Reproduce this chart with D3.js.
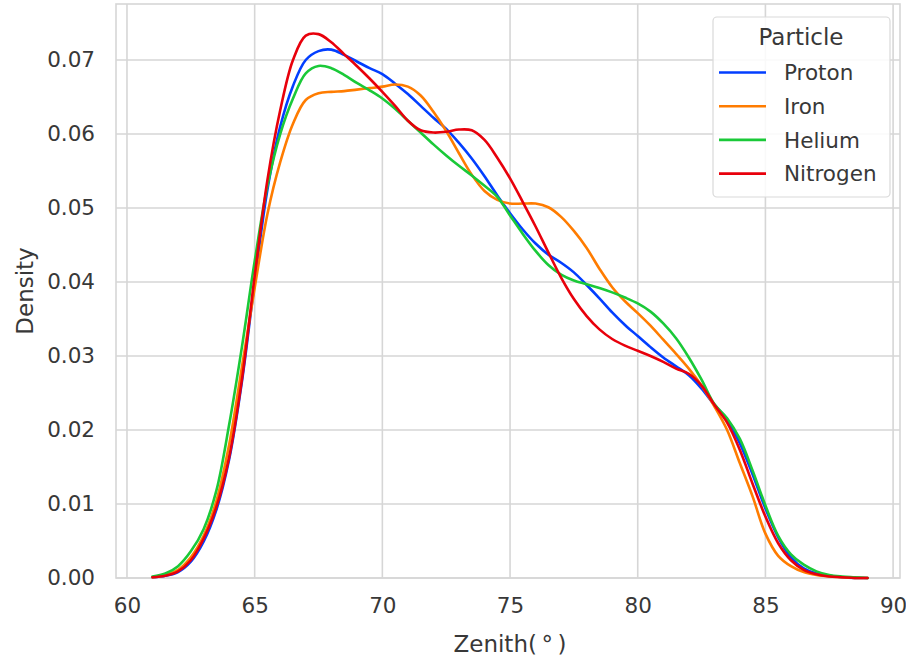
<!DOCTYPE html>
<html><head><meta charset="utf-8">
<script src="https://cdn.jsdelivr.net/npm/d3@7"></script>
<style>body{margin:0;background:#fff}svg{display:block}</style>
</head><body><svg id="c" width="906" height="661"></svg>
<script>
const zenith = [61,61.5,62,62.5,63,63.5,64,64.5,65,65.5,66,66.5,67,67.5,68,68.5,69,69.5,70,70.5,71,71.5,72,72.5,73,73.5,74,74.5,75,75.5,76,76.5,77,77.5,78,78.5,79,79.5,80,80.5,81,81.5,82,82.5,83,83.5,84,84.5,85,85.5,86,86.5,87,87.5,88,88.5,89];
const proton = [0.0001,0.0003,0.0008,0.0022,0.0049,0.0092,0.0160,0.0265,0.0400,0.0525,0.0610,0.0665,0.0700,0.0712,0.0714,0.0707,0.0698,0.0689,0.0681,0.0668,0.0654,0.0638,0.0622,0.0607,0.0588,0.0567,0.0543,0.0517,0.0493,0.0471,0.0452,0.0437,0.0426,0.0413,0.0396,0.0378,0.0359,0.0342,0.0327,0.0312,0.0298,0.0286,0.0274,0.0256,0.0234,0.0214,0.0182,0.0140,0.0094,0.0055,0.0028,0.0013,0.0006,0.0003,0.0001,0.0000,0.0000];
const iron = [0.0001,0.0004,0.0011,0.0028,0.0057,0.0104,0.0180,0.0285,0.0392,0.0492,0.0562,0.0614,0.0646,0.0655,0.0657,0.0658,0.0660,0.0662,0.0664,0.0667,0.0664,0.0652,0.0630,0.0604,0.0574,0.0545,0.0523,0.0511,0.0506,0.0506,0.0506,0.0501,0.0488,0.0469,0.0446,0.0418,0.0393,0.0374,0.0358,0.0341,0.0322,0.0303,0.0283,0.0260,0.0232,0.0200,0.0155,0.0110,0.0060,0.0030,0.0016,0.0008,0.0004,0.0002,0.0001,0.0000,0.0000];
const helium = [0.0002,0.0006,0.0016,0.0036,0.0066,0.0118,0.0207,0.0312,0.0428,0.0530,0.0600,0.0648,0.0682,0.0692,0.0689,0.0680,0.0669,0.0659,0.0648,0.0634,0.0618,0.0602,0.0586,0.0571,0.0557,0.0544,0.0530,0.0515,0.0490,0.0465,0.0442,0.0423,0.0410,0.0402,0.0397,0.0392,0.0386,0.0379,0.0371,0.0360,0.0344,0.0324,0.0298,0.0268,0.0235,0.0216,0.0188,0.0145,0.0098,0.0057,0.0032,0.0018,0.0009,0.0004,0.0002,0.0001,0.0000];
const nitrogen = [0.0001,0.0003,0.0009,0.0024,0.0053,0.0096,0.0163,0.0268,0.0408,0.0538,0.0632,0.0700,0.0733,0.0735,0.0724,0.0708,0.0692,0.0675,0.0657,0.0638,0.0618,0.0605,0.0602,0.0603,0.0606,0.0605,0.0592,0.0568,0.0540,0.0508,0.0475,0.0440,0.0406,0.0377,0.0354,0.0336,0.0323,0.0314,0.0307,0.0300,0.0292,0.0283,0.0276,0.0260,0.0234,0.0210,0.0173,0.0127,0.0083,0.0047,0.0024,0.0011,0.0005,0.0002,0.0001,0.0000,0.0000];
const particles = ["Proton","Iron","Helium","Nitrogen"];
const colors = ["#023eff","#ff7c00","#1ac938","#e8000b"];
const xTicks = [60,65,70,75,80,85,90];
const yTicks = [0,0.01,0.02,0.03,0.04,0.05,0.06,0.07];
const yTickLabels = ["0.00","0.01","0.02","0.03","0.04","0.05","0.06","0.07"];
const seriesValues = [proton, iron, helium, nitrogen];

const W = 906, H = 661;
const m = {left:116, right:6, top:4, bottom:83};
const pw = W - m.left - m.right, ph = H - m.top - m.bottom;
const svg = d3.select("#c");
const font = "'DejaVu Sans', sans-serif";
const textColor = "#383838";
const gridColor = "#d6d6d6";

const x = d3.scaleLinear().domain([59.57, 90.27]).range([m.left, m.left + pw]);
const y = d3.scaleLinear().domain([0, 0.07757]).range([m.top + ph, m.top]);

// grid
const g = svg.append("g");
g.selectAll("line.vx").data(xTicks).join("line")
  .attr("x1", d => x(d)).attr("x2", d => x(d))
  .attr("y1", m.top).attr("y2", m.top + ph)
  .attr("stroke", gridColor).attr("stroke-width", 1.6);
g.selectAll("line.hy").data(yTicks).join("line")
  .attr("x1", m.left).attr("x2", m.left + pw)
  .attr("y1", d => y(d)).attr("y2", d => y(d))
  .attr("stroke", gridColor).attr("stroke-width", 1.6);
// frame
svg.append("rect").attr("x", m.left).attr("y", m.top).attr("width", pw).attr("height", ph)
  .attr("fill", "none").attr("stroke", gridColor).attr("stroke-width", 1.6);

// axes via d3 (no tick lines, no domain)
const xAxis = svg.append("g").attr("transform", `translate(0,${m.top + ph})`)
  .call(d3.axisBottom(x).tickValues(xTicks).tickFormat(d3.format("d")).tickSize(0).tickPadding(20));
const yAxis = svg.append("g").attr("transform", `translate(${m.left},0)`)
  .call(d3.axisLeft(y).tickValues(yTicks).tickFormat((d, i) => yTickLabels[i]).tickSize(0).tickPadding(21));
[xAxis, yAxis].forEach(a => {
  a.select(".domain").remove();
  a.selectAll("text").attr("font-family", font).attr("font-size", 21.5).attr("fill", textColor);
});

// curves
const line = d3.line().x((d, i) => x(zenith[i])).y(d => y(d)).curve(d3.curveCatmullRom.alpha(0.5));
svg.append("g").selectAll("path").data(seriesValues).join("path")
  .attr("d", d => line(d))
  .attr("fill", "none")
  .attr("stroke", (d, i) => colors[i])
  .attr("stroke-width", 2.6)
  .attr("stroke-linejoin", "round").attr("stroke-linecap", "round");

// axis labels
svg.append("text").attr("x", x(75)).attr("y", 652).attr("text-anchor", "middle")
  .attr("font-family", font).attr("font-size", 23).attr("fill", textColor)
  .text("Zenith(\u2009\u00b0\u2009)");
svg.append("text").attr("transform", `translate(33,${m.top + ph / 2}) rotate(-90)`)
  .attr("text-anchor", "middle").attr("font-family", font).attr("font-size", 23).attr("fill", textColor)
  .text("Density");

// legend
const lg = svg.append("g");
lg.append("rect").attr("x", 713).attr("y", 17).attr("width", 177).attr("height", 180)
  .attr("rx", 4).attr("fill", "#ffffff").attr("fill-opacity", 0.85)
  .attr("stroke", "#d9d9d9").attr("stroke-width", 1.2);
lg.append("text").attr("x", 801).attr("y", 45).attr("text-anchor", "middle")
  .attr("font-family", font).attr("font-size", 23).attr("fill", textColor).text("Particle");
const items = lg.selectAll("g.item").data(particles).join("g")
  .attr("transform", (d, i) => `translate(0,${72.5 + i * 33.7})`);
items.append("line").attr("x1", 719).attr("x2", 766).attr("y1", 0).attr("y2", 0)
  .attr("stroke", (d, i) => colors[i]).attr("stroke-width", 2.6);
items.append("text").attr("x", 784).attr("y", 0).attr("dy", "0.36em")
  .attr("font-family", font).attr("font-size", 21.5).attr("fill", textColor).text(d => d);
</script>
</body></html>
